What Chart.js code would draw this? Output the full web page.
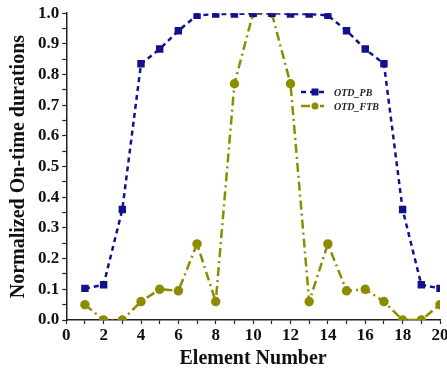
<!DOCTYPE html>
<html lang="en">
<head>
  <meta charset="UTF-8">
  <title>OTD chart</title>
  <script src="https://cdn.jsdelivr.net/npm/chart.js"></script>
  <style>
    html, body { margin: 0; padding: 0; background: #fff; }
    #wrap { width: 447px; height: 369px; }
  </style>
</head>
<body>
  <div id="wrap"><canvas id="otdChart" width="447" height="369"></canvas></div>
  <script>
    // data
    const elements = [1, 2, 3, 4, 5, 6, 7, 8, 9, 10, 11, 12, 13, 14, 15, 16, 17, 18, 19, 20];
    const otdPB = [0.103, 0.115, 0.36, 0.835, 0.883, 0.943, 0.993, 0.997, 0.997, 1.0,
                   1.0, 0.997, 0.997, 0.993, 0.943, 0.883, 0.835, 0.36, 0.115, 0.103];
    const otdFTB = [0.05, 0.0, 0.0, 0.06, 0.1, 0.095, 0.248, 0.06, 0.77, 1.0,
                    1.0, 0.77, 0.06, 0.248, 0.095, 0.1, 0.06, 0.0, 0.0, 0.05];

    const serif = "'Liberation Serif', 'Times New Roman', serif";
    const navy = '#12128c';
    const olive = '#8c8c00';

    function pts(vals) {
      return elements.map((x, i) => ({ x: x, y: vals[i] }));
    }

    // small legend drawn inside the plot, line sample + marker + label
    const insideLegend = {
      id: 'insideLegend',
      afterDraw(chart) {
        const ctx = chart.ctx;
        const items = chart.data.datasets;
        let y = 92;
        items.forEach(ds => {
          ctx.save();
          ctx.strokeStyle = ds.borderColor;
          ctx.lineWidth = 2.5;
          ctx.setLineDash(ds.borderDash || []);
          ctx.beginPath();
          ctx.moveTo(301, y);
          ctx.lineTo(324, y);
          ctx.stroke();
          ctx.setLineDash([]);
          ctx.fillStyle = ds.pointBackgroundColor;
          if (ds.pointStyle === 'rect') {
            ctx.fillRect(315 - 3.5, y - 3.5, 7, 7);
          } else {
            ctx.beginPath();
            ctx.arc(315, y, 3.5, 0, Math.PI * 2);
            ctx.fill();
          }
          ctx.fillStyle = '#222';
          ctx.font = "italic bold 10px " + serif;
          ctx.textBaseline = 'middle';
          ctx.fillText(ds.label, 334, y + 1);
          ctx.restore();
          y += 14;
        });
      }
    };

    const ctx = document.getElementById('otdChart').getContext('2d');
    new Chart(ctx, {
      type: 'line',
      data: {
        datasets: [{
          label: 'OTD_PB',
          data: pts(otdPB),
          borderColor: navy,
          backgroundColor: navy,
          pointBackgroundColor: navy,
          pointBorderColor: navy,
          pointStyle: 'rect',
          pointRadius: 3.5,
          borderWidth: 2.5,
          borderDash: [5, 4],
          tension: 0
        }, {
          label: 'OTD_FTB',
          data: pts(otdFTB),
          borderColor: olive,
          backgroundColor: olive,
          pointBackgroundColor: olive,
          pointBorderColor: olive,
          pointStyle: 'circle',
          pointRadius: 3.5,
          borderWidth: 2.5,
          borderDash: [9, 4, 2, 4],
          tension: 0
        }]
      },
      options: {
        responsive: false,
        animation: false,
        layout: { padding: { top: 7, right: 7, left: 7, bottom: 0 } },
        plugins: {
          legend: { display: false },
          tooltip: { enabled: false }
        },
        scales: {
          x: {
            type: 'linear',
            min: 0,
            max: 20,
            afterFit: s => { s.paddingRight = 0; s.paddingLeft = 0; },
            grid: { drawOnChartArea: false, color: '#222', tickLength: 4, tickWidth: 1.2 },
            border: { color: '#222', width: 1.5 },
            ticks: {
              stepSize: 1,
              autoSkip: false,
              maxRotation: 0,
              color: '#111',
              padding: 3,
              font: { family: serif, size: 17, weight: 'bold', lineHeight: 1.0 },
              callback: v => (v % 2 === 0 ? String(v) : '')
            },
            title: {
              display: true,
              text: 'Element Number',
              color: '#111',
              padding: { top: 2, bottom: 0 },
              font: { family: serif, size: 20, weight: 'bold', lineHeight: 1.0 }
            }
          },
          y: {
            min: 0,
            max: 1.0,
            grid: { drawOnChartArea: false, color: '#222', tickLength: 4, tickWidth: 1.2 },
            border: { color: '#222', width: 1.5 },
            ticks: {
              stepSize: 0.05,
              autoSkip: false,
              color: '#111',
              padding: 3,
              font: { family: serif, size: 17, weight: 'bold' },
              callback: v => {
                const r = Math.round(v * 100);
                return r % 10 === 0 ? (r / 100).toFixed(1) : '';
              }
            },
            title: {
              display: true,
              text: 'Normalized On-time durations',
              color: '#111',
              padding: { top: 0, bottom: 4 },
              font: { family: serif, size: 20, weight: 'bold' }
            }
          }
        }
      },
      plugins: [insideLegend]
    });
  </script>
</body>
</html>
